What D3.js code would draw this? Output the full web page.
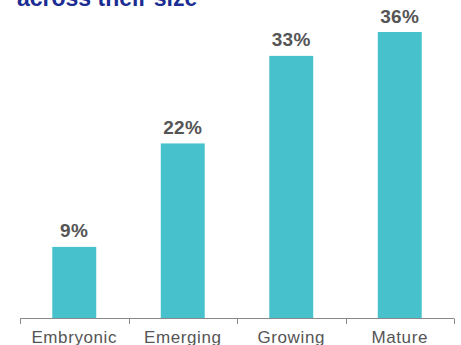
<!DOCTYPE html>
<html><head><meta charset="utf-8">
<script src="https://cdn.jsdelivr.net/npm/d3@7"></script>
<style>body{margin:0;background:#fff;}svg{display:block;}</style>
</head><body>
<script>
const categories = ["Embryonic", "Emerging", "Growing", "Mature"];
const values = [9, 22, 33, 36];
const valueLabels = ["9%", "22%", "33%", "36%"];
const title = "across their size";

const W = 461, H = 345;
const svg = d3.select("body").append("svg").attr("width", W).attr("height", H);

svg.append("text").attr("x", 17).attr("y", 5.5)
  .attr("font-family", "Liberation Sans, Arial, sans-serif")
  .attr("font-weight", "bold").attr("font-size", 23)
  .attr("fill", "#1b2d92").text(title);

const x = d3.scaleBand().domain(categories).range([20, 454]).paddingInner(0.595).paddingOuter(0.2975);
const xTicks = d3.scaleBand().domain(categories).range([20, 454]);
const y = d3.scaleLinear().domain([0, 36]).range([318.5, 32]);

svg.selectAll("rect.bar").data(values).join("rect")
  .attr("class", "bar")
  .attr("x", (d, i) => x(categories[i]))
  .attr("width", x.bandwidth())
  .attr("y", d => y(d))
  .attr("height", d => y(0) - y(d))
  .attr("fill", "#47c2cc");

svg.selectAll("text.val").data(values).join("text")
  .attr("class", "val")
  .attr("x", (d, i) => x(categories[i]) + x.bandwidth() / 2)
  .attr("y", d => y(d) - 9.5)
  .attr("text-anchor", "middle")
  .attr("font-family", "Liberation Sans, Arial, sans-serif")
  .attr("font-weight", "bold").attr("font-size", 19)
  .attr("letter-spacing", 0.4)
  .attr("fill", "#555").text((d, i) => valueLabels[i]);

const g = svg.append("g");
g.append("line").attr("x1", 20).attr("x2", 454).attr("y1", 318.5).attr("y2", 318.5)
  .attr("stroke", "#8a8a8a").attr("stroke-width", 1);
const bounds = categories.map(c => xTicks(c)).concat([xTicks.range()[1]]);
g.selectAll("line.tick").data(bounds).join("line").attr("class", "tick")
  .attr("x1", d => Math.round(d) + 0.5).attr("x2", d => Math.round(d) + 0.5)
  .attr("y1", 318.5).attr("y2", 324)
  .attr("stroke", "#8a8a8a").attr("stroke-width", 1);

g.selectAll("text.cat").data(categories).join("text").attr("class", "cat")
  .attr("x", d => xTicks(d) + xTicks.bandwidth() / 2)
  .attr("y", 342.5)
  .attr("text-anchor", "middle")
  .attr("font-family", "Liberation Sans, Arial, sans-serif")
  .attr("font-size", 17).attr("letter-spacing", 0.6)
  .attr("fill", "#555").text(d => d);
</script>
</body></html>
